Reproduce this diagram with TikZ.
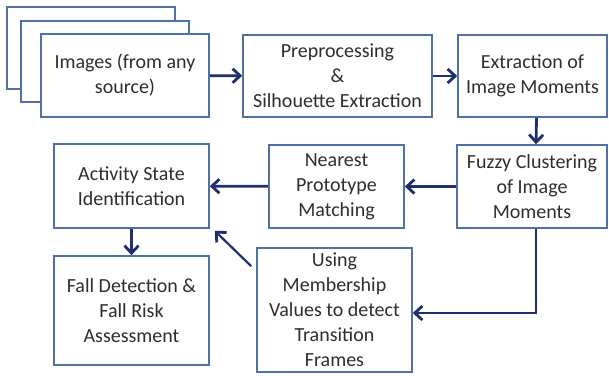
\documentclass[tikz,border=0pt]{standalone}
\usepackage{fontspec}
\setmainfont{Carlito}
\usepackage{tikz}
\usetikzlibrary{arrows.meta, positioning}

\definecolor{boxblue}{HTML}{4F71A8}
\definecolor{flownavy}{HTML}{1F2E6E}
\definecolor{textgrey}{HTML}{2E2E2E}

\begin{document}
\begin{tikzpicture}[
            x=1pt, y=-1pt,
            stage/.style={
                draw=boxblue, line width=1.6pt, fill=white,
                inner sep=0pt, align=center, text=textgrey,
                font=\fontsize{20}{25}\selectfont
            },
            flow/.style={
                draw=flownavy, line width=2.8pt,
                -{Straight Barb[length=7.5pt, width=14pt, line width=2.8pt]}
            }
        ]
        \useasboundingbox (0, 0) rectangle (609, 375);

        % stacked image frames behind the first stage
        \draw[draw=boxblue, line width=1.6pt, fill=white] (7, 7) rectangle (175, 89);
        \draw[draw=boxblue, line width=1.6pt, fill=white] (21, 21) rectangle (189, 102);
        \node(images)[stage, minimum width=168pt, minimum height=83pt] at (125, 75.5) {Images (from any\\source)};

        \node(prep)[stage, minimum width=189pt, minimum height=82pt] at (337.5, 76) {Preprocessing\\\&\\Silhouette Extraction};
        \node(extract)[stage, minimum width=149pt, minimum height=82pt] at (532.5, 76) {Extraction of\\Image Moments};
        \node(fuzzy)[stage, minimum width=150pt, minimum height=83pt] at (532, 186.5) {Fuzzy Clustering\\of Image\\Moments};
        \node(nearest)[stage, minimum width=135pt, minimum height=83pt] at (336.5, 186.5) {Nearest\\Prototype\\Matching};
        \node(activity)[stage, minimum width=155pt, minimum height=84pt] at (131.5, 186) {Activity State\\Identification};
        \node(fall)[stage, minimum width=155pt, minimum height=109pt] at (131.5, 310.5) {Fall Detection \&\\Fall Risk\\Assessment};
        \node(member)[stage, minimum width=155pt, minimum height=124pt] at (334.5, 310) {Using\\Membership\\Values to detect\\Transition\\Frames};

        \draw[flow] (images) -- (prep);
        \draw[flow] (prep) -- (extract);
        \draw[flow] ([xshift=4pt]extract.south) -- ([xshift=4pt]fuzzy.north);
        \draw[flow] (fuzzy) -- (nearest);
        \draw[flow] (nearest) -- (activity);
        \draw[flow] (activity) -- (fall);
        \draw[flow] ([xshift=4pt]fuzzy.south) |- ([yshift=-3pt]member.east);
        \draw[flow, line width=2.2pt] ([xshift=-5pt, yshift=-19pt]member.north west) -- ([xshift=5pt, yshift=-2pt]activity.south east);
    \end{tikzpicture}
\end{document}
